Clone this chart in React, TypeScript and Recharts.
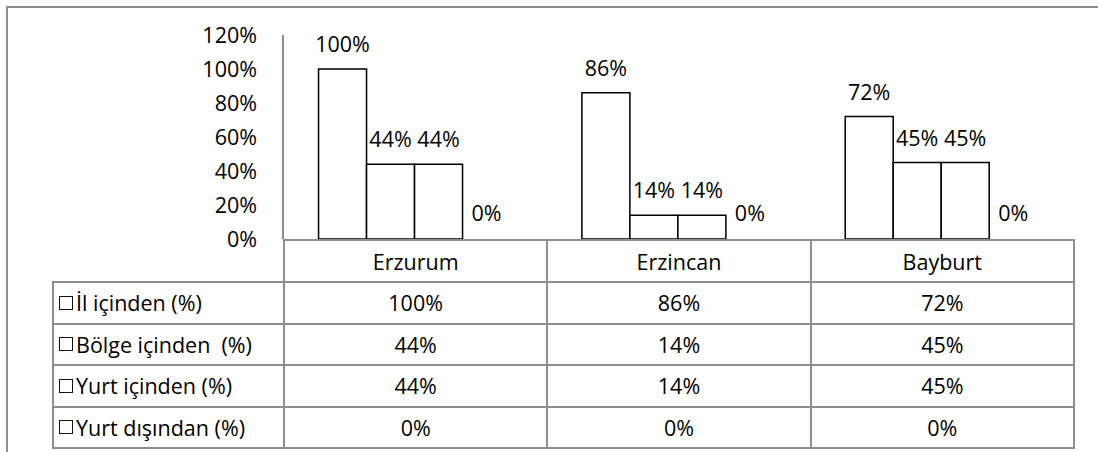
import React from 'react';
import { BarChart, Bar, XAxis, YAxis, LabelList, Rectangle } from 'recharts';

const categories = ['Erzurum', 'Erzincan', 'Bayburt'];
const ilIcinden = [100, 86, 72];
const bolgeIcinden = [44, 14, 45];
const yurtIcinden = [44, 14, 45];
const yurtDisindan = [0, 0, 0];
const seriesNames = ['İl içinden (%)', 'Bölge içinden  (%)', 'Yurt içinden (%)', 'Yurt dışından (%)'];
const seriesKeys = ['il', 'bolge', 'yurt', 'dis'];
const seriesValues = [ilIcinden, bolgeIcinden, yurtIcinden, yurtDisindan];
const yTicks = [0, 20, 40, 60, 80, 100, 120];

const data = categories.map((name, i) => ({
  name,
  il: ilIcinden[i],
  bolge: bolgeIcinden[i],
  yurt: yurtIcinden[i],
  dis: yurtDisindan[i],
}));

const W = 1098;
const H = 452;
const PLOT_LEFT = 283;
const PLOT_RIGHT = 1073;
const PLOT_TOP = 35;
const BASELINE = 239;
const TABLE_LEFT = 52;
const HEADER_H = 42;
const ROW_H = 41.5;
const FONT = '"Open Sans", Lato, sans-serif';
const FS = 21.5;
const GRID = '#8e8e8e';
const pct = (v) => v + '%';

const colW = (PLOT_RIGHT - PLOT_LEFT) / categories.length;

const cellBase: React.CSSProperties = {
  position: 'absolute',
  boxSizing: 'border-box',
  display: 'flex',
  alignItems: 'center',
  fontFamily: FONT,
  fontSize: FS,
  color: '#000',
  whiteSpace: 'pre',
};

// zero-value bars keep a 1px slot so their labels are still placed, but draw nothing
const BarShape = (p) => (p.height <= 1.01 ? <g /> : <Rectangle {...p} />);

function DataTable() {
  const cells = [];
  categories.forEach((c, i) => {
    cells.push(
      <div key={'h' + i} style={{
        ...cellBase, left: PLOT_LEFT + i * colW, top: BASELINE, width: colW + 2, height: HEADER_H + 2,
        border: `2px solid ${GRID}`, justifyContent: 'center',
      }}>{c}</div>
    );
  });
  seriesNames.forEach((s, r) => {
    const top = BASELINE + HEADER_H + r * ROW_H;
    cells.push(
      <div key={'l' + r} style={{
        ...cellBase, left: TABLE_LEFT, top, width: PLOT_LEFT - TABLE_LEFT + 2, height: ROW_H + 2,
        border: `2px solid ${GRID}`, paddingLeft: 5,
      }}>
        <span style={{ display: 'inline-block', width: 14, height: 14, border: '1.5px solid #111', marginRight: 3, boxSizing: 'border-box' }} />
        {s}
      </div>
    );
    seriesValues[r].forEach((v, i) => {
      cells.push(
        <div key={'c' + r + '-' + i} style={{
          ...cellBase, left: PLOT_LEFT + i * colW, top, width: colW + 2, height: ROW_H + 2,
          border: `2px solid ${GRID}`, justifyContent: 'center',
        }}>{pct(v)}</div>
      );
    });
  });
  return <>{cells}</>;
}

export default function App() {
  const yAxisW = 80;
  return (
    <div style={{ position: 'fixed', left: 0, top: 0, width: W, height: H, background: '#fff', overflow: 'hidden' }}>
      <div style={{
        position: 'absolute', left: 6, top: 6, width: W, height: H,
        borderLeft: `2px solid ${GRID}`, borderTop: `2px solid ${GRID}`,
      }} />
      <div style={{ position: 'absolute', left: 0, top: 0 }}>
        <BarChart
          width={W}
          height={H}
          data={data}
          margin={{ top: PLOT_TOP, right: W - PLOT_RIGHT, bottom: H - BASELINE, left: PLOT_LEFT - yAxisW }}
          barCategoryGap="13.5%"
          barGap={0}
        >
          <XAxis dataKey="name" hide />
          <YAxis
            width={yAxisW}
            domain={[0, 120]}
            ticks={yTicks}
            tickFormatter={pct}
            tickLine={false}
            tickSize={0}
            tickMargin={26}
            axisLine={{ stroke: GRID, strokeWidth: 2 }}
            tick={{ fontSize: FS, fill: '#000', fontFamily: FONT }}
            interval={0}
          />
          {seriesKeys.map((k) => (
            <Bar key={k} dataKey={k} fill="#fff" stroke="#000" strokeWidth={1.5}
              minPointSize={1} shape={BarShape} isAnimationActive={false}>
              <LabelList dataKey={k} position="top" offset={17} formatter={pct}
                style={{ fontSize: FS, fill: '#000', fontFamily: FONT }} />
            </Bar>
          ))}
        </BarChart>
      </div>
      <DataTable />
    </div>
  );
}
